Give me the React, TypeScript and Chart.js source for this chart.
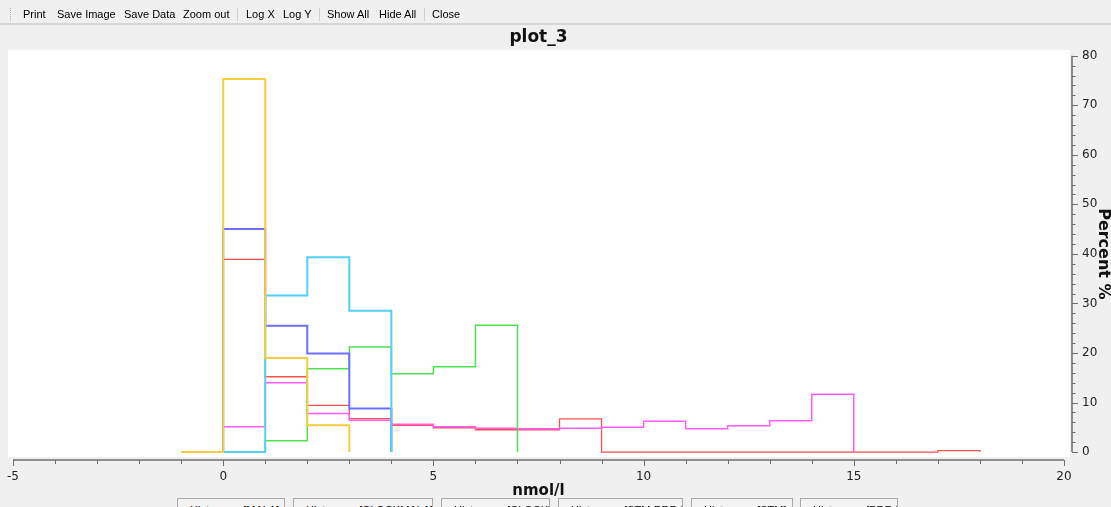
import React, { useEffect, useRef } from "react";
import { Chart, registerables } from "chart.js";

Chart.register(...registerables);

// Histogram bins are 1 nmol/l wide; each series lists bin heights (%) starting at its first bin edge.
const yellowStart = -1;
const yellowValues = [0, 75.3, 19, 5.4];
const cyanStart = 0;
const cyanValues = [0, 31.6, 39.3, 28.5];
const blueStart = 0;
const blueValues = [45, 25.5, 19.9, 8.8];
const greenStart = 0;
const greenValues = [0, 2.3, 16.8, 21.2, 15.8, 17.2, 25.6];
const magentaStart = 0;
const magentaValues = [5.1, 14.0, 7.8, 6.4, 5.6, 5.1, 4.8, 4.7, 4.8, 5.0, 6.2, 4.7, 5.3, 6.3, 11.65];
const redStart = 0;
const redValues = [38.9, 15.2, 9.4, 6.75, 5.4, 4.9, 4.5, 4.5, 6.7, 0, 0, 0, 0, 0, 0, 0, 0, 0.3];

const seriesNames = [
  "Histogram [MALA]",
  "Histogram [CLOCKMALA]",
  "Histogram [CLOCK]",
  "Histogram [STM-PRR-]",
  "Histogram [STM]",
  "Histogram [PRR-]",
];

const xTickLabels = [-5, 0, 5, 10, 15, 20];
const yTickLabels = [0, 10, 20, 30, 40, 50, 60, 70, 80];

const toolbarItems = [
  { text: "Print", x: 23 },
  { text: "Save Image", x: 57 },
  { text: "Save Data", x: 124 },
  { text: "Zoom out", x: 183 },
  { text: "Log X", x: 246 },
  { text: "Log Y", x: 283 },
  { text: "Show All", x: 327 },
  { text: "Hide All", x: 379 },
  { text: "Close", x: 432 },
];
const toolbarSeparators = [237, 319, 424];

const legendBoxes = [
  { left: 177, width: 110 },
  { left: 293, width: 142 },
  { left: 441, width: 111 },
  { left: 558, width: 127 },
  { left: 691, width: 104 },
  { left: 800, width: 100 },
];

// Outline of a histogram: start on the baseline, step through each bin, drop back to zero.
// With stepped "after", each point's height is drawn from the previous point's x up to its own x,
// so point i+1 sits at the right edge of bin i.
function steps(start: number, values: number[]) {
  const pts = [{ x: start, y: 0 }];
  values.forEach((v, i) => pts.push({ x: start + i + 1, y: v }));
  pts.push({ x: start + values.length, y: 0 });
  return pts;
}

const AXIS_COLOR = "#6e6e6e";
const TICK_FONT = "12px 'DejaVu Sans', sans-serif";

const axesPlugin = {
  id: "histAxes",
  beforeDraw(chart: any) {
    const { ctx, chartArea } = chart;
    ctx.save();
    ctx.fillStyle = "#ffffff";
    ctx.fillRect(chartArea.left, chartArea.top, chartArea.right - chartArea.left, chartArea.bottom - chartArea.top);
    ctx.restore();
  },
  afterDraw(chart: any) {
    const { ctx } = chart;
    const xs = chart.scales.x;
    const ys = chart.scales.y;
    ctx.save();
    ctx.strokeStyle = AXIS_COLOR;
    ctx.fillStyle = "#222222";
    ctx.lineWidth = 1.5;

    // bottom axis
    const axisY = 460;
    const x0 = xs.getPixelForValue(xTickLabels[0]);
    const x1 = xs.getPixelForValue(xTickLabels[xTickLabels.length - 1]);
    ctx.beginPath();
    ctx.moveTo(x0, axisY);
    ctx.lineTo(x1, axisY);
    ctx.stroke();
    ctx.lineWidth = 1;
    for (let v = xTickLabels[0]; v <= xTickLabels[xTickLabels.length - 1]; v++) {
      const px = Math.round(xs.getPixelForValue(v)) + 0.5;
      const len = v % 5 === 0 ? 6 : 4;
      ctx.beginPath();
      ctx.moveTo(px, axisY);
      ctx.lineTo(px, axisY + len);
      ctx.stroke();
    }
    ctx.font = TICK_FONT;
    ctx.textAlign = "center";
    ctx.textBaseline = "middle";
    xTickLabels.forEach((v) => {
      ctx.fillText(String(v), xs.getPixelForValue(v), 477);
    });
    ctx.font = "bold 15px 'DejaVu Sans', sans-serif";
    ctx.fillStyle = "#111111";
    ctx.fillText("nmol/l", (x0 + x1) / 2, 491);

    // right axis
    const axisX = 1072;
    const y0 = ys.getPixelForValue(yTickLabels[0]);
    const y1 = ys.getPixelForValue(yTickLabels[yTickLabels.length - 1]);
    ctx.lineWidth = 1.5;
    ctx.beginPath();
    ctx.moveTo(axisX, y0);
    ctx.lineTo(axisX, y1);
    ctx.stroke();
    ctx.lineWidth = 1;
    for (let v = yTickLabels[0]; v <= yTickLabels[yTickLabels.length - 1]; v += 2) {
      const py = Math.round(ys.getPixelForValue(v)) + 0.5;
      const len = v % 10 === 0 ? 6 : 3.5;
      ctx.beginPath();
      ctx.moveTo(axisX, py);
      ctx.lineTo(axisX + len, py);
      ctx.stroke();
    }
    ctx.font = TICK_FONT;
    ctx.fillStyle = "#222222";
    ctx.textAlign = "left";
    yTickLabels.forEach((v) => {
      ctx.fillText(String(v), 1082, ys.getPixelForValue(v));
    });
    ctx.save();
    ctx.translate(1103, (y0 + y1) / 2);
    ctx.rotate(Math.PI / 2);
    ctx.textAlign = "center";
    ctx.font = "bold 16px 'DejaVu Sans', sans-serif";
    ctx.fillStyle = "#111111";
    ctx.fillText("Percent %", 0, 0);
    ctx.restore();

    ctx.restore();
  },
};

export default function App() {
  const canvasRef = useRef<HTMLCanvasElement | null>(null);

  useEffect(() => {
    if (!canvasRef.current) return;
    const mk = (label: string, pts: any[], color: string, width: number) => ({
      label,
      data: pts,
      borderColor: color,
      borderWidth: width,
      backgroundColor: color,
      stepped: "after" as const,
      pointRadius: 0,
      fill: false,
      tension: 0,
    });
    // The first dataset is painted on top, so the tall yellow outline comes first.
    const chart = new Chart(canvasRef.current, {
      type: "line",
      data: {
        datasets: [
          mk(seriesNames[0], steps(yellowStart, yellowValues), "#f6cd3e", 2),
          mk(seriesNames[1], steps(cyanStart, cyanValues), "#52d0f5", 2),
          mk(seriesNames[2], steps(blueStart, blueValues), "#6e6eff", 2),
          mk(seriesNames[3], steps(greenStart, greenValues), "#4fdf4f", 1.5),
          mk(seriesNames[4], steps(magentaStart, magentaValues), "#ff5cff", 1.5),
          mk(seriesNames[5], steps(redStart, redValues), "#ff5050", 1.3),
        ],
      },
      options: {
        animation: false,
        responsive: false,
        devicePixelRatio: 1,
        layout: { padding: { left: 8, right: 41, top: 50, bottom: 50 } },
        plugins: {
          legend: { display: false },
          tooltip: { enabled: false },
          title: { display: false },
        },
        scales: {
          x: { type: "linear", min: -5.119, max: 20.143, display: false },
          y: { type: "linear", min: -1.0, max: 81.15, display: false },
        },
      },
      plugins: [axesPlugin],
    });
    return () => chart.destroy();
  }, []);

  return (
    <div
      style={{
        position: "fixed",
        left: 0,
        top: 0,
        width: 1111,
        height: 507,
        background: "#f0f0f0",
        overflow: "hidden",
        fontFamily: "'Liberation Sans', Arial, sans-serif",
      }}
    >
      <canvas ref={canvasRef} width={1111} height={507} style={{ position: "absolute", left: 0, top: 0 }} />
      {/* toolbar */}
      <div
        style={{
          position: "absolute",
          left: 10,
          top: 8,
          width: 0,
          height: 13,
          borderLeft: "1px dotted #b0b0b0",
        }}
      />
      {toolbarItems.map((it) => (
        <span
          key={it.text}
          style={{ position: "absolute", left: it.x, top: 8, fontSize: 11, lineHeight: "13px", color: "#000" }}
        >
          {it.text}
        </span>
      ))}
      {toolbarSeparators.map((x) => (
        <div
          key={x}
          style={{ position: "absolute", left: x, top: 8, width: 1, height: 13, background: "#cfcfcf" }}
        />
      ))}
      <div style={{ position: "absolute", left: 0, top: 23, width: 1111, height: 2, background: "#d6d6d6" }} />
      {/* title */}
      <div
        style={{
          position: "absolute",
          left: 0,
          top: 26,
          width: 1077,
          textAlign: "center",
          fontFamily: "'DejaVu Sans', sans-serif",
          fontWeight: "bold",
          fontSize: 17,
          lineHeight: "20px",
          color: "#111",
        }}
      >
        plot_3
      </div>
      {/* series toggles */}
      {legendBoxes.map((b, i) => (
        <div
          key={i}
          style={{
            position: "absolute",
            left: b.left,
            top: 498,
            width: b.width - 2,
            height: 20,
            border: "1px solid #a8a8a8",
            background: "#f3f3f3",
            boxSizing: "border-box",
            fontSize: 11,
            lineHeight: "13px",
            paddingTop: 5,
            paddingLeft: 12,
            whiteSpace: "nowrap",
            overflow: "hidden",
            color: "#000",
          }}
        >
          {seriesNames[i]}
        </div>
      ))}
    </div>
  );
}
